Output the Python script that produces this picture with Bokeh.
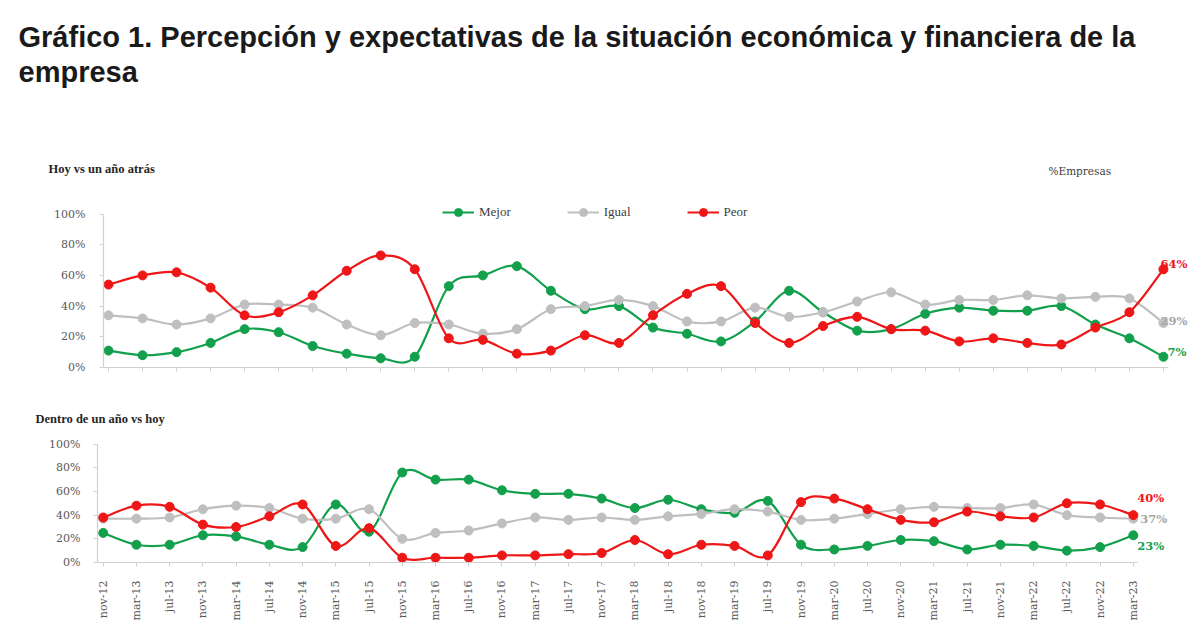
import math
import numpy as np
from bokeh.plotting import figure
from bokeh.models import Range1d, Label, Legend, LegendItem, FixedTicker
from bokeh.layouts import column
from bokeh.embed import file_html
from bokeh.resources import INLINE

# ---------------- data ----------------
periods = ["nov-12", "mar-13", "jul-13", "nov-13", "mar-14", "jul-14", "nov-14", "mar-15",
           "jul-15", "nov-15", "mar-16", "jul-16", "nov-16", "mar-17", "jul-17", "nov-17",
           "mar-18", "jul-18", "nov-18", "mar-19", "jul-19", "nov-19", "mar-20", "jul-20",
           "nov-20", "mar-21", "jul-21", "nov-21", "mar-22", "jul-22", "nov-22", "mar-23"]

series_names = ["Mejor", "Igual", "Peor"]

hoy_mejor = [11, 8, 10, 16, 25, 23, 14, 9, 6, 7, 53, 60, 66, 50, 38, 40,
             26, 22, 17, 30, 50, 36, 24, 25, 35, 39, 37, 37, 40, 28, 19, 7]
hoy_igual = [34, 32, 28, 32, 41, 41, 39, 28, 21, 29, 28, 22, 25, 38, 40, 44,
             40, 30, 30, 39, 33, 36, 43, 49, 41, 44, 44, 47, 45, 46, 45, 29]
hoy_peor = [54, 60, 62, 52, 34, 36, 47, 63, 73, 64, 19, 18, 9, 11, 21, 16,
            34, 48, 53, 29, 16, 27, 33, 25, 24, 17, 19, 16, 15, 26, 36, 64]

dentro_mejor = [25, 15, 15, 23, 22, 15, 13, 49, 26, 76, 70, 70, 61, 58, 58, 54,
                46, 53, 45, 42, 52, 15, 11, 14, 19, 18, 11, 15, 14, 10, 13, 23]
dentro_igual = [37, 37, 38, 45, 48, 46, 37, 37, 45, 20, 25, 27, 33, 38, 36, 38,
                36, 39, 41, 45, 43, 36, 37, 41, 45, 47, 46, 46, 49, 40, 38, 37]
dentro_peor = [38, 48, 47, 32, 30, 39, 49, 14, 29, 4, 4, 4, 6, 6, 7, 8,
               19, 7, 15, 14, 6, 51, 54, 45, 36, 34, 43, 39, 38, 50, 49, 40]

y_ticks = [0, 20, 40, 60, 80, 100]
y_tick_labels = ["0%", "20%", "40%", "60%", "80%", "100%"]

end_labels_hoy = ["7%", "29%", "64%"]
end_labels_dentro = ["23%", "37%", "40%"]

title_line1 = "Gráfico 1. Percepción y expectativas de la situación económica y financiera de la"
title_line2 = "empresa"
subtitle_hoy = "Hoy vs un año atrás"
subtitle_dentro = "Dentro de un año vs hoy"
unit_note = "%Empresas"

# ---------------- style ----------------
GREEN = "#12a04c"
GRAY = "#bfbfbf"
RED = "#ee1616"
COLORS = [GREEN, GRAY, RED]
LABEL_COLORS = [GREEN, "#a6a6a6", RED]
SERIF = "DejaVu Serif"
SERIF2 = "Liberation Serif"
AXIS_COLOR = "#d0d0d0"
TICK_TEXT = "#595959"
W = 1200


def bezier_segments(values):
    """Excel-style smoothed line: cubic Bezier control points from neighbours."""
    y = np.asarray(values, dtype=float)
    x = np.arange(len(y), dtype=float)
    n = len(y)
    i = np.arange(n - 1)
    prv = np.maximum(i - 1, 0)
    nxt = i + 1
    nxt2 = np.minimum(i + 2, n - 1)
    return dict(
        x0=x[i], y0=y[i], x1=x[nxt], y1=y[nxt],
        cx0=x[i] + (x[nxt] - x[prv]) / 6.0, cy0=y[i] + (y[nxt] - y[prv]) / 6.0,
        cx1=x[nxt] - (x[nxt2] - x[i]) / 6.0, cy1=y[nxt] - (y[nxt2] - y[i]) / 6.0,
    )


def text_canvas(h):
    f = figure(width=W, height=h, x_range=Range1d(0, W), y_range=Range1d(h, 0),
               x_axis_type=None, y_axis_type=None, toolbar_location=None, title=None,
               output_backend="svg", min_border=0, frame_align=False)
    f.grid.visible = False
    f.outline_line_color = None
    f.background_fill_color = "white"
    f.border_fill_color = "white"
    return f


def panel(height, left, bottom, first_px, step_px, px_per_unit, axis_end_px, show_x_labels, y_standoff):
    frame_w = W - left
    frame_h = height - bottom
    x0 = -(first_px - left) / step_px
    x1 = x0 + frame_w / step_px
    p = figure(width=W, height=height, x_range=Range1d(x0, x1),
               y_range=Range1d(0, frame_h / px_per_unit),
               toolbar_location=None, title=None, output_backend="svg", frame_align=False,
               min_border_left=left, min_border_right=0, min_border_top=0,
               min_border_bottom=bottom)
    p.xgrid.visible = False
    p.ygrid.visible = False
    p.outline_line_color = None
    p.background_fill_color = "white"
    p.border_fill_color = "white"
    for ax in (p.xaxis[0], p.yaxis[0]):
        ax.axis_line_color = AXIS_COLOR
        ax.axis_line_width = 1.2
        ax.major_tick_line_color = AXIS_COLOR
        ax.major_tick_out = 4
        ax.major_tick_in = 0
        ax.minor_tick_line_color = None
        ax.major_label_text_font = SERIF
        ax.major_label_text_font_size = "11px"
        ax.major_label_text_color = TICK_TEXT
    p.yaxis.ticker = FixedTicker(ticks=y_ticks)
    p.yaxis.bounds = (y_ticks[0], y_ticks[-1])
    p.yaxis.major_label_overrides = {t: lab for t, lab in zip(y_ticks, y_tick_labels)}
    p.yaxis.major_label_standoff = y_standoff
    p.xaxis.ticker = FixedTicker(ticks=list(range(len(periods))))
    p.xaxis.bounds = (x0, x0 + (axis_end_px - left) / step_px)
    if show_x_labels:
        p.xaxis.major_label_overrides = {i: lab for i, lab in enumerate(periods)}
        p.xaxis.major_label_orientation = math.pi / 2
        p.xaxis.major_label_standoff = 14
    else:
        p.xaxis.major_label_overrides = {i: "" for i in range(len(periods))}
        p.xaxis.major_label_standoff = 0
    return p


def draw_series(p, series):
    items = []
    xs = list(range(len(periods)))
    for name, vals, col in zip(series_names, series, COLORS):
        bz = p.bezier(line_color=col, line_width=2.2, **bezier_segments(vals))
        sc = p.scatter(x=xs, y=vals, size=9, fill_color=col, line_color=col)
        items.append(LegendItem(label=name, renderers=[bz, sc]))
    return items


def end_labels(p, series, labels, offsets):
    for vals, lab, col, off in zip(series, labels, LABEL_COLORS, offsets):
        p.add_layout(Label(x=len(periods) - 1, y=vals[-1], x_offset=off[0], y_offset=off[1],
                           text=lab, text_font=SERIF, text_font_style="bold",
                           text_font_size="11.5px", text_color=col, text_baseline="middle"))


# ---------------- header (title + top subtitle) ----------------
H1 = 182
head1 = text_canvas(H1)
for txt, yy in ((title_line1, 36), (title_line2, 71)):
    head1.add_layout(Label(x=18, y=yy, text=txt, text_font="Liberation Sans",
                           text_font_style="bold", text_font_size="29px",
                           text_color="#1a1a1a", text_baseline="alphabetic"))
head1.add_layout(Label(x=48, y=168, text=subtitle_hoy, text_font=SERIF2, text_font_style="bold",
                       text_font_size="12.5px", text_color="#262626", text_baseline="alphabetic"))
head1.add_layout(Label(x=1048, y=170, text=unit_note, text_font=SERIF, text_font_size="10.5px",
                       text_color="#404040", text_baseline="alphabetic"))

# ---------------- top panel ----------------
top = panel(height=395 - H1, left=103, bottom=28, first_px=108, step_px=34.03,
            px_per_unit=1.535, axis_end_px=1168, show_x_labels=False, y_standoff=14)
top_items = draw_series(top, [hoy_mejor, hoy_igual, hoy_peor])
legend = Legend(items=top_items, orientation="horizontal", location=(339, 145),
                glyph_width=32, glyph_height=20, label_standoff=5, spacing=56,
                padding=0, margin=0, border_line_alpha=0, background_fill_alpha=0,
                label_text_font=SERIF2, label_text_font_size="13px",
                label_text_color="#404040")
top.add_layout(legend)
end_labels(top, [hoy_mejor, hoy_igual, hoy_peor], end_labels_hoy, [(4, 5), (-3, 2), (-3, 5)])

# ---------------- header 2 ----------------
head2 = text_canvas(35)
head2.add_layout(Label(x=35, y=23, text=subtitle_dentro, text_font=SERIF2, text_font_style="bold",
                       text_font_size="12.5px", text_color="#262626", text_baseline="alphabetic"))

# ---------------- bottom panel ----------------
bot = panel(height=212, left=97, bottom=80, first_px=102.7, step_px=33.23,
            px_per_unit=1.184, axis_end_px=1137, show_x_labels=True, y_standoff=13)
draw_series(bot, [dentro_mejor, dentro_igual, dentro_peor])
end_labels(bot, [dentro_mejor, dentro_igual, dentro_peor], end_labels_dentro,
           [(4, -11), (7, 0), (4, 17)])

layout = column(head1, top, head2, bot, spacing=0)
open("out.html", "w").write(file_html(layout, INLINE))
